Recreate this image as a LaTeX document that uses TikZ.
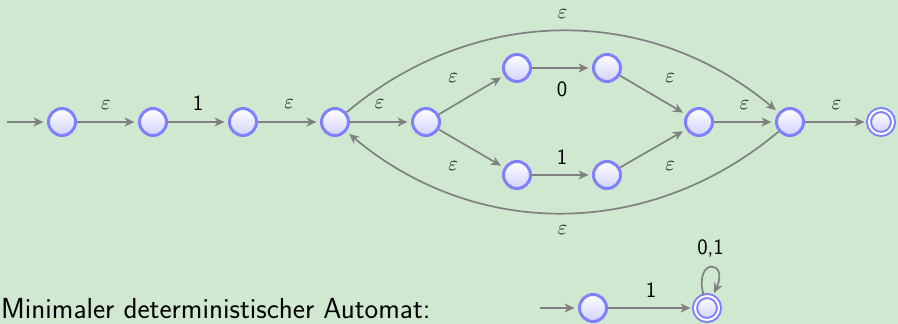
\documentclass[tikz,border=0pt]{standalone}
\usetikzlibrary{arrows.meta}
\definecolor{bgc}{RGB}{209,232,208}
\definecolor{edgec}{RGB}{128,128,128}
\definecolor{statec}{RGB}{128,128,255}
\begin{document}
\begin{tikzpicture}[x=1pt,y=-1pt,
  state/.style={circle, draw=statec, line width=3pt, minimum size=27pt, inner sep=0pt, top color=white, bottom color=blue!18},
  accept/.style={circle, draw=statec, line width=2pt, double=white, double distance=2pt, minimum size=24pt, inner sep=0pt, top color=white, bottom color=blue!18},
  trans/.style={draw=edgec, line width=1.7pt, -{Stealth[length=10pt,width=9pt,inset=3pt]}, shorten >=3.5pt},
  lbl/.style={font=\fontsize{22}{26}\sffamily, inner sep=0pt, text=black}
]
\fill[bgc] (0,0) rectangle (898,324);
\useasboundingbox (0,0) rectangle (898,324);

\node[state] (s0) at (62,122) {};
\node[state] (s1) at (153,122) {};
\node[state] (s2) at (243,122) {};
\node[state] (s3) at (335,122) {};
\node[state] (s4) at (426,122) {};
\node[state] (s5) at (517,68) {};
\node[state] (s6) at (607,68) {};
\node[state] (s7) at (517,175) {};
\node[state] (s8) at (607,175) {};
\node[state] (s9) at (699,122) {};
\node[state] (s10) at (790,122) {};
\node[accept] (s11) at (881,122) {};
\coordinate (st) at (7,122);

\draw[trans] (st) -- (s0);
\draw[trans] (s0) -- node[lbl, shift={(-1.5,-17)}] {$\varepsilon$} (s1);
\draw[trans] (s1) -- node[lbl, shift={(0,-19)}] {1} (s2);
\draw[trans] (s2) -- node[lbl, shift={(0,-18)}] {$\varepsilon$} (s3);
\draw[trans] (s3) -- node[lbl, shift={(-1,-18)}] {$\varepsilon$} (s4);
\draw[trans] (s4) -- node[lbl, shift={(-18.5,-17)}] {$\varepsilon$} (s5);
\draw[trans] (s4) -- node[lbl, shift={(-18.5,17.5)}] {$\varepsilon$} (s7);
\draw[trans] (s5) -- node[lbl, shift={(0,21)}] {0} (s6);
\draw[trans] (s7) -- node[lbl, shift={(0,-18)}] {1} (s8);
\draw[trans] (s6) -- node[lbl, shift={(17,-17)}] {$\varepsilon$} (s9);
\draw[trans] (s8) -- node[lbl, shift={(17,17.5)}] {$\varepsilon$} (s9);
\draw[trans] (s9) -- node[lbl, shift={(0,-17)}] {$\varepsilon$} (s10);
\draw[trans] (s10) -- node[lbl, shift={(0,-17)}] {$\varepsilon$} (s11);
\draw[trans] (s3) to[bend left=40] node[lbl, shift={(0,-17)}] {$\varepsilon$} (s10);
\draw[trans] (s10) to[bend left=40] node[lbl, shift={(0,17)}] {$\varepsilon$} (s3);

% minimal DFA
\node[anchor=base west, inner sep=0pt, font=\fontsize{29}{34}\sffamily] (txt) at (1,318) {Minimaler deterministischer Automat:};
\node[state] (b0) at (593,308) {};
\node[accept] (b1) at (707,308) {};
\coordinate (bst) at (540,308);
\draw[trans] (bst) -- (b0);
\draw[trans] (b0) -- node[lbl, shift={(0,-18)}] {1} (b1);
\draw[trans] (b1) to[out=105,in=65,distance=40pt] node[lbl, shift={(0,-19)}] {0,1} (b1);
\end{tikzpicture}
\end{document}
